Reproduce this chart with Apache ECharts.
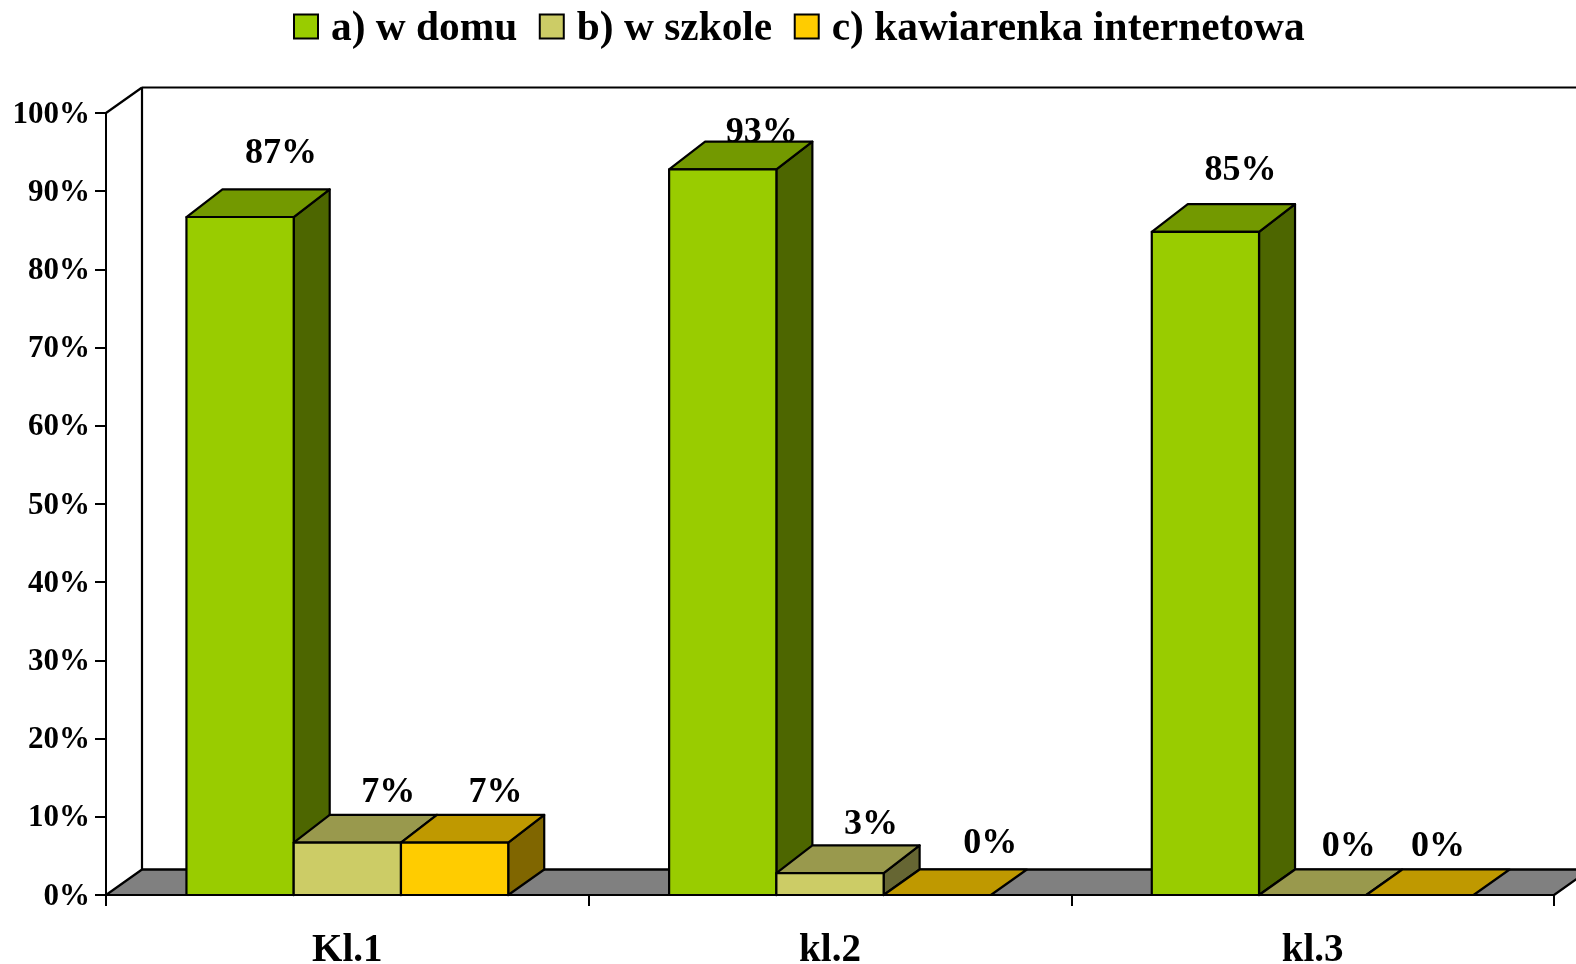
<!DOCTYPE html>
<html><head><meta charset="utf-8">
<style>html,body{margin:0;padding:0;background:#fff}#c{width:1576px;height:964px}</style>
<script src="https://cdn.jsdelivr.net/npm/echarts@6/dist/echarts.min.js"></script>
</head><body><div id="c"></div>
<script>
const categories = ['Kl.1', 'kl.2', 'kl.3'];
const seriesNames = ['a) w domu', 'b) w szkole', 'c) kawiarenka internetowa'];
const wDomu = [86.7, 92.8, 84.8];
const wSzkole = [6.7, 2.8, 0];
const kawiarenka = [6.7, 0, 0];
const seriesValues = [wDomu, wSzkole, kawiarenka];
const yTicks = { min: 0, max: 100, interval: 10 };

// styling and layout
const faces = [
  { front: '#99CC00', top: '#739900', side: '#4D6600' },
  { front: '#CCCC66', top: '#99994D', side: '#666633' },
  { front: '#FFCC00', top: '#BF9900', side: '#806600' }
];
const DEPTH_X = 36, DEPTH_Y = 25.5, DEPTH_Y_RAISED = 27.7;
const FONT = '"Liberation Serif"';
// label centre offset from the centre of each bar's front-top edge [series][category]
const labelOffsets = [
  [[41, -63], [39, -37], [35, -61]],
  [[41, -50], [41, -48], [36, -48]],
  [[41, -50], [53, -51], [18, -48]]
];
const stroke = { stroke: '#000', lineWidth: 2.2, lineJoin: 'round' };

function poly(points, fill) {
  return { type: 'polygon', z2: 1, shape: { points }, style: Object.assign({ fill }, stroke) };
}
function renderBar(si) {
  return function (params, api) {
    const cat = api.value(0), val = api.value(1);
    const band = api.size([1, 0])[0];
    const w = band / 4.5;
    const cx = api.coord([cat, 0])[0];
    const x0 = cx - 1.5 * w + si * w, x1 = x0 + w;
    const y0 = api.coord([cat, 0])[1], y1 = api.coord([cat, val])[1];
    const f = faces[si], off = labelOffsets[si][cat];
    const dTop = val > 0 ? DEPTH_Y_RAISED : DEPTH_Y;
    const children = [];
    children.push({
      type: 'text', z2: 0,
      style: {
        text: Math.round(val) + '%', x: (x0 + x1) / 2 + off[0], y: y1 + off[1],
        align: 'center', verticalAlign: 'middle', fill: '#000',
        font: 'bold 36px ' + FONT
      }
    });
    if (val > 0) {
      children.push(poly([[x1, y1], [x1 + DEPTH_X, y1 - dTop], [x1 + DEPTH_X, y0 - DEPTH_Y], [x1, y0]], f.side));
    }
    children.push(poly([[x0, y1], [x0 + DEPTH_X, y1 - dTop], [x1 + DEPTH_X, y1 - dTop], [x1, y1]], f.top));
    if (val > 0) {
      children.push(poly([[x0, y1], [x1, y1], [x1, y0], [x0, y0]], f.front));
    }
    return { type: 'group', children };
  };
}
function renderWalls(params) {
  const c = params.coordSys;
  const L = c.x, T = c.y, B = c.y + c.height, R = c.x + c.width;
  const far = R + DEPTH_X + 40;
  const line = (x1, y1, x2, y2) => ({ type: 'line', shape: { x1, y1, x2, y2 }, style: stroke });
  return {
    type: 'group',
    children: [
      { type: 'polygon', shape: { points: [[L, B], [L + DEPTH_X, B - DEPTH_Y], [R + DEPTH_X, B - DEPTH_Y], [R, B]] },
        style: Object.assign({ fill: '#808080' }, stroke) },
      line(L, T, L + DEPTH_X, T - DEPTH_Y),
      line(L + DEPTH_X, T - DEPTH_Y, L + DEPTH_X, B - DEPTH_Y),
      line(L + DEPTH_X, T - DEPTH_Y, far, T - DEPTH_Y),
      line(L + DEPTH_X, B - DEPTH_Y, far, B - DEPTH_Y)
    ]
  };
}

const chart = echarts.init(document.getElementById('c'), null, { renderer: 'canvas' });
chart.setOption({
  animation: false,
  backgroundColor: '#fff',
  grid: { left: 106, right: 22, top: 113, bottom: 69, containLabel: false, outerBoundsMode: 'none' },
  legend: {
    left: 288, top: 4, itemWidth: 24, itemHeight: 24, itemGap: 21.5, icon: 'rect',
    data: seriesNames,
    formatter: name => '{t|' + name + '}',
    textStyle: {
      rich: { t: { fontFamily: FONT, fontWeight: 'bold', fontSize: 41.4, color: '#000', padding: [6, 0, 0, 8] } }
    },
    itemStyle: { borderColor: '#000', borderWidth: 2 }
  },
  xAxis: {
    type: 'category', data: categories,
    axisLine: { lineStyle: { color: '#000', width: 2 } },
    axisTick: { show: true, length: 11, lineStyle: { color: '#000', width: 2 } },
    axisLabel: { margin: 36, color: '#000', fontFamily: FONT, fontWeight: 'bold', fontSize: 39 }
  },
  yAxis: {
    type: 'value', min: yTicks.min, max: yTicks.max, interval: yTicks.interval,
    axisLine: { show: true, lineStyle: { color: '#000', width: 2 } },
    axisTick: { show: true, length: 11, lineStyle: { color: '#000', width: 2 } },
    axisLabel: {
      margin: 16, formatter: '{t|{value}%}',
      rich: { t: { color: '#000', fontFamily: FONT, fontWeight: 'bold', fontSize: 31, padding: [3, 0, 0, 0] } }
    },
    splitLine: { show: false }
  },
  series: [
    { type: 'custom', name: 'walls', z: 1, silent: true, clip: false, data: [[0, 0]], encode: { x: 0, y: 1 }, renderItem: renderWalls }
  ].concat(seriesNames.map((name, si) => ({
    type: 'custom', name, z: 2, clip: false,
    itemStyle: { color: faces[si].front },
    encode: { x: 0, y: 1 },
    data: seriesValues[si].map((v, i) => [i, v]),
    renderItem: renderBar(si)
  })))
});
</script></body></html>
